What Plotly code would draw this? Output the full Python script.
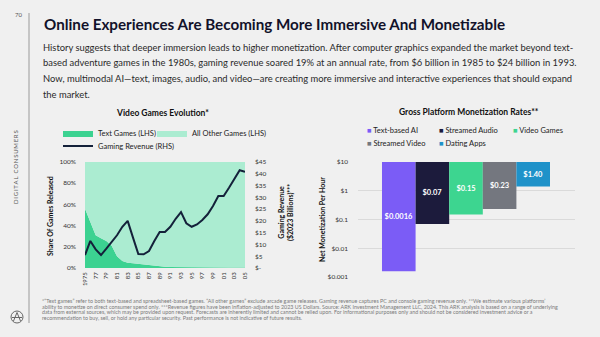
import plotly.graph_objects as go

W, H = 600, 337
BG = "#f0f0f0"
FONT = "Lato"

# ---------------- data ----------------
years = list(range(1975, 2006))
year_ticks = list(range(1975, 2006, 2))
year_tick_labels = ["1975", "77", "79", "81", "83", "85", "87", "89", "91", "93",
                    "95", "97", "99", "01", "03", "05"]
text_games_share = [56, 43, 31, 28, 25.5, 21, 11, 6.6, 5, 4.4, 3.8, 2.8, 2.2, 1.6, 1.3,
                    1.1, 1.0, 0.9, 0.8, 0.7, 0.6, 0.6, 0.5, 0.5, 0.4, 0.4, 0.4, 0.4,
                    0.5, 0.6, 0.5]
other_games_share = [100 - v for v in text_games_share]
gaming_revenue = [5.5, 11.5, 7.9, 5.5, 8.2, 11, 13.9, 17.5, 20, 12.9, 5.9, 5.8, 7.2,
                  11.5, 15.3, 15.3, 17.5, 20.9, 23.7, 19, 17.5, 18.5, 20.4, 22.8, 26.3,
                  30.6, 30.6, 34.1, 37.6, 41.5, 40.8]
share_ticks = [0, 20, 40, 60, 80, 100]
share_tick_labels = ["0%", "20%", "40%", "60%", "80%", "100%"]
rev_ticks = [0, 5, 10, 15, 20, 25, 30, 35, 40, 45]
rev_tick_labels = ["$-", "$5", "$10", "$15", "$20", "$25", "$30", "$35", "$40", "$45"]

platforms = ["Text-based AI", "Streamed Audio", "Video Games", "Streamed Video", "Dating Apps"]
monetization = [0.0016, 0.07, 0.15, 0.23, 1.40]
monetization_labels = ["$0.0016", "$0.07", "$0.15", "$0.23", "$1.40"]
platform_colors = ["#7b5cf6", "#1c1b3c", "#3dd590", "#74777f", "#1f92c9"]
bar_top = 10
log_ticks = [0.001, 0.01, 0.1, 1, 10]
log_tick_labels = ["$0.001", "$0.01", "$0.1", "$1", "$10"]


def px(x):
    return x / W


def py(y):
    return 1 - y / H


fig = go.Figure()

# ---------------- left chart ----------------
fig.add_trace(go.Scatter(
    x=years, y=text_games_share, name="Text Games (LHS)", stackgroup="one",
    mode="lines", line=dict(width=0, color="#3cd291"), fillcolor="#3cd291",
    xaxis="x", yaxis="y", legend="legend"))
fig.add_trace(go.Scatter(
    x=years, y=other_games_share, name="All Other Games (LHS)", stackgroup="one",
    mode="lines", line=dict(width=0, color="#abecd1"), fillcolor="#abecd1",
    xaxis="x", yaxis="y", legend="legend2"))
fig.add_trace(go.Scatter(
    x=years, y=gaming_revenue, name="Gaming Revenue (RHS)", mode="lines",
    line=dict(width=2, color="#14213a"), xaxis="x", yaxis="y2", legend="legend3"))

# ---------------- right chart ----------------
for i, (name, val, lab, col) in enumerate(zip(platforms, monetization,
                                              monetization_labels, platform_colors)):
    fig.add_trace(go.Bar(
        x=[i], y=[val - bar_top], base=[bar_top], width=1, name=name,
        marker=dict(color=col, line=dict(width=0)), text=[lab],
        textposition="inside", insidetextanchor="middle", constraintext="none",
        textangle=0,
        textfont=dict(family=FONT, size=7.5, color="white", weight="bold"),
        xaxis="x3", yaxis="y3", showlegend=False))

tick_font = dict(family=FONT, size=6.5, color="#333333")

fig.update_layout(
    width=W, height=H, margin=dict(l=0, r=0, t=0, b=0),
    paper_bgcolor=BG, plot_bgcolor="rgba(0,0,0,0)",
    font=dict(family=FONT, color="#222222"),
    barmode="overlay",
    xaxis=dict(domain=[px(85), px(245)], range=[1975, 2005], anchor="y",
               tickvals=year_ticks, ticktext=year_tick_labels, tickangle=-90,
               tickfont=dict(family=FONT, size=6, color="#333333"),
               showgrid=False, zeroline=False, showline=False, ticks="",
               automargin=False, ticklabelstandoff=2),
    yaxis=dict(domain=[py(268), py(162)], range=[0, 100], anchor="x",
               tickvals=share_ticks, ticktext=share_tick_labels, tickfont=tick_font,
               showgrid=False, zeroline=False, showline=False, ticks="",
               automargin=False, ticklabelstandoff=8),
    yaxis2=dict(overlaying="y", side="right", range=[0, 45], anchor="x",
                tickvals=rev_ticks, ticktext=rev_tick_labels, tickfont=tick_font,
                showgrid=False, zeroline=False, showline=False, ticks="",
                automargin=False, ticklabelstandoff=9),
    xaxis3=dict(domain=[px(358), px(575)], range=[-1.214, 5.244], anchor="y3",
                visible=False, automargin=False),
    yaxis3=dict(domain=[py(277), py(162)], type="log", range=[-3, 1], anchor="x3",
                tickvals=log_ticks, ticktext=log_tick_labels, tickfont=tick_font,
                showgrid=True, gridcolor="#dadada", gridwidth=1, zeroline=False,
                showline=False, ticks="", automargin=False, ticklabelstandoff=9),
)

leg_font = dict(family=FONT, size=7.5, color="#222222")


def leg(x, y):
    return dict(x=px(x), y=py(y), xanchor="left", yanchor="middle",
                orientation="h", bgcolor="rgba(0,0,0,0)", borderwidth=0,
                font=leg_font, itemclick=False, itemdoubleclick=False)


fig.update_layout(legend=leg(58, 133), legend2=leg(152, 133), legend3=leg(58, 146))

# ---------------- text ----------------
anns = []


def ann(text, x, y, size, color="#222222", bold=False, xanchor="left", angle=0):
    if bold:
        text = "<b>" + text + "</b>"
    anns.append(dict(text=text, x=px(x), y=py(y), xref="paper", yref="paper",
                     xanchor=xanchor, yanchor="middle", showarrow=False,
                     textangle=angle, font=dict(family=FONT, size=size, color=color)))


# legend of the right chart (compact key: coloured square + label)
key_pos = [(365, 130), (437, 130), (511, 130), (365, 143), (437, 143)]
for (kx, ky), name, col in zip(key_pos, platforms, platform_colors):
    ann("<span style='color:%s'>\u25a0</span> %s" % (col, name), kx, ky, 7.5, "#222222")

ann("70", 18, 15, 6, "#555555", xanchor="center")
ann("Online Experiences Are Becoming More Immersive And Monetizable", 42, 24, 15.2,
    "#12122a", bold=True)
body = [
    "History suggests that deeper immersion leads to higher monetization. After computer graphics expanded the market beyond text-",
    "based adventure games in the 1980s, gaming revenue soared 19% at an annual rate, from $6 billion in 1985 to $24 billion in 1993.",
    "Now, multimodal AI\u2014text, images, audio, and video\u2014are creating more immersive and interactive experiences that should expand",
    "the market.",
]
for i, line in enumerate(body):
    ann(line, 41, 47 + i * 15.8, 9.4, "#2a2a2a")

ann("\u2009".join("DIGITAL CONSUMERS"), 15, 167, 6, "#555555", xanchor="center", angle=-90)
ann("Video Games Evolution*", 162, 113, 8.5, "#111111", bold=True, xanchor="center")
ann("Gross Platform Monetization Rates**", 469, 112, 8.5, "#111111", bold=True,
    xanchor="center")
ann("Share Of Games Released", 50, 216, 7, "#111111", bold=True, xanchor="center",
    angle=-90)
ann("Gaming Revenue<br>($2023 Billions)***", 286, 213, 7, "#111111", bold=True,
    xanchor="center", angle=-90)
ann("Net Monetization Per Hour", 322, 220, 7, "#111111", bold=True, xanchor="center",
    angle=-90)

foot = [
    "*\u201cText games\u201d refer to both text-based and spreadsheet-based games. \u201cAll other games\u201d exclude arcade game releases. Gaming revenue captures PC and console gaming revenue only. **We estimate various platforms\u2019",
    "ability to monetize on direct consumer spend only. ***Revenue figures have been inflation-adjusted to 2023 US Dollars. Source: ARK Investment Management LLC, 2024. This ARK analysis is based on a range of underlying",
    "data from external sources, which may be provided upon request. Forecasts are inherently limited and cannot be relied upon. For informational purposes only and should not be considered investment advice or a",
    "recommendation to buy, sell, or hold any particular security. Past performance is not indicative of future results.",
]
for i, line in enumerate(foot):
    ann(line, 40, 301 + i * 5.6, 5.35, "#7a7a7a")

fig.update_layout(annotations=anns)

shapes = [
    dict(type="line", xref="paper", yref="paper", x0=px(29), x1=px(29), y0=py(13),
         y1=py(323), line=dict(color="#9a9a9a", width=1)),
    dict(type="circle", xref="paper", yref="paper", x0=px(11), x1=px(23), y0=py(323),
         y1=py(311), line=dict(color="#666666", width=1)),
    dict(type="line", xref="paper", yref="paper", x0=px(13.5), x1=px(17), y0=py(321),
         y1=py(312.5), line=dict(color="#666666", width=1)),
    dict(type="line", xref="paper", yref="paper", x0=px(17), x1=px(20.5), y0=py(312.5),
         y1=py(321), line=dict(color="#666666", width=1)),
    dict(type="line", xref="paper", yref="paper", x0=px(12), x1=px(22), y0=py(317.5),
         y1=py(317.5), line=dict(color="#666666", width=1)),
]
fig.update_layout(shapes=shapes)

fig.write_html("out.html")
